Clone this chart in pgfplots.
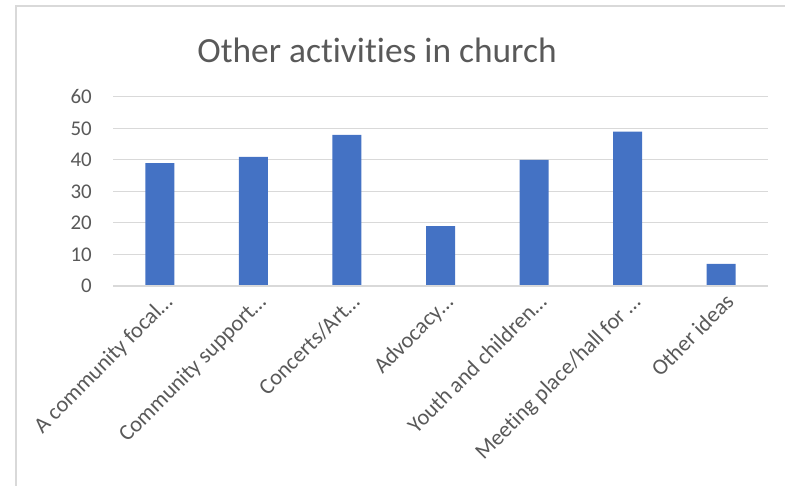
\documentclass[border=0pt]{standalone}
\usepackage{fontspec}
\setmainfont{Carlito}[Ligatures={NoCommon}]
\usepackage{pgfplots}
\pgfplotsset{compat=1.18}
\definecolor{barblue}{HTML}{4472C4}
\definecolor{txtgray}{HTML}{595959}
\definecolor{gridgray}{HTML}{D9D9D9}
\begin{document}
\begin{tikzpicture}
  \useasboundingbox (0,0) rectangle (785bp,486bp);
  % chart area border (only left and top edges visible)
  \draw[gridgray, line width=1.2bp] (16bp,0) -- (16bp,480bp) -- (785bp,480bp);
  % title
  \node[txtgray, anchor=base, font=\fontsize{35.5}{40}\selectfont] at (377bp,423bp) {Other activities in church};
  \begin{axis}[
      at={(113bp,200bp)}, anchor=south west,
      scale only axis,
      width=655bp, height=189bp,
      xmin=-0.5, xmax=6.5,
      ymin=0, ymax=60,
      ytick={0,10,...,60},
      xtick=data,
      xticklabels={A community focal…, Community support…, Concerts/Art…, Advocacy…, Youth and children…, Meeting place/hall for …, Other ideas},
      axis line style={draw=none},
      axis x line*=bottom,
      axis y line*=left,
      ymajorgrids=true,
      grid style={gridgray, line width=1bp},
      major tick length=0pt,
      tick style={draw=none},
      /pgf/number format/assume math mode=true,
      yticklabel style={txtgray, font=\fontsize{21}{24}\selectfont, inner sep=0pt, xshift=-21bp},
      xticklabel style={txtgray, font=\fontsize{22.5}{26}\selectfont, inner sep=0pt,
                        xshift=14bp, yshift=-17bp, rotate=45, anchor=base east},
      clip=false,
    ]
    \addplot[ybar, bar width=29bp, fill=barblue, draw=none] coordinates {
      (0,39) (1,41) (2,48) (3,19) (4,40) (5,49) (6,7)
    };
    \draw[gridgray, line width=1.5bp] (axis cs:-0.5,0) -- (axis cs:6.5,0);
  \end{axis}
\end{tikzpicture}
\end{document}
